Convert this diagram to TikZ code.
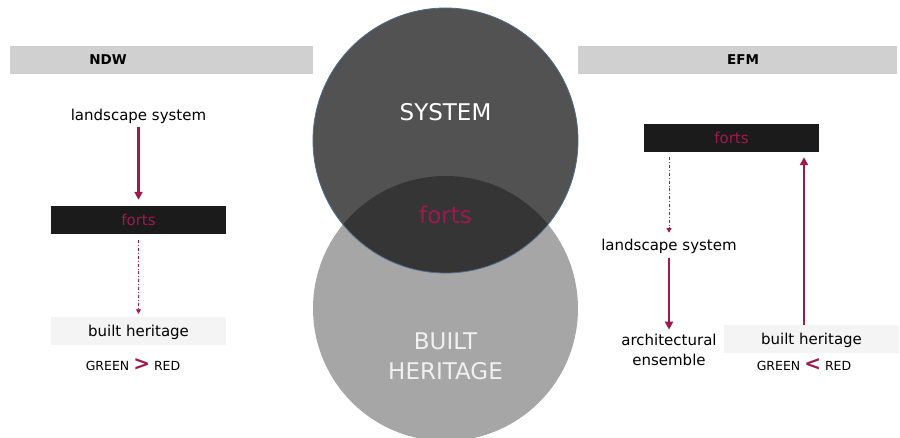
\documentclass[tikz,border=0pt]{standalone}
\usepackage{fontspec}
\setmainfont{DejaVu Sans}
\usetikzlibrary{positioning, arrows.meta, calc}
\definecolor{fortred}{HTML}{9E1A4E}
\definecolor{barblack}{HTML}{1B1B1B}
\definecolor{headgray}{HTML}{D0D0D0}
\definecolor{lightbar}{HTML}{F4F4F4}
\definecolor{heritagegray}{HTML}{A6A6A6}
\definecolor{rimblue}{HTML}{4D6D8F}
\newcommand{\fsize}[1]{\fontsize{#1}{#1}\selectfont}

\begin{document}
\begin{tikzpicture}[x=1pt, y=-1pt, font=\fsize{15}]

    % --- Styles ---
    \tikzset{
        headbar/.style={rectangle, fill=headgray, minimum height=28pt, inner sep=0pt},
        headtext/.style={font=\fsize{13.5}\bfseries},
        fortbar/.style={rectangle, fill=barblack, text=fortred, minimum width=175pt, minimum height=28pt, inner sep=0pt},
        herbar/.style={rectangle, fill=lightbar, minimum width=175pt, minimum height=28pt, inner sep=0pt, text depth=0pt},
        cmptext/.style={font=\fsize{12.5}},
        flow/.style={draw=fortred, line width=2.2pt, -{Triangle[length=8pt, width=8pt]}},
        hint/.style={draw=fortred, line width=0.8pt, dash dot, -{Triangle[length=4.5pt, width=5pt]}},
        circletext/.style={text=white, font=\fsize{23}, align=center}
    }

    \useasboundingbox (0,0) rectangle (900,438);

    % --- Headers ---
    \node[headbar, minimum width=303pt] (ndwbar) at (161.5,60) {};
    \node[headtext] (ndw) at (108,60) {NDW};
    \node[headbar, minimum width=319pt] (efmbar) at (737.5,60) {};
    \node[headtext] (efm) at (743,60) {EFM};

    % --- Circles ---
    \node[circle, fill=heritagegray, minimum size=265pt, inner sep=0pt] (heritage) at (445.5,308.5) {};
    \node[circle, fill=black, fill opacity=0.68, draw=rimblue, line width=0.8pt, minimum size=265pt, inner sep=0pt] (system) at (445.5,140.5) {};
    \node[circletext] (systemlbl) at (445.5,112) {SYSTEM};
    \node[circletext, text=fortred] (fortslbl) at (445.5,215) {forts};
    \node[circletext, text=white!94!black, font=\fontsize{23}{30}\selectfont] (heritagelbl) at (445.5,356) {BUILT\\HERITAGE};

    % --- NDW column ---
    \node (lland) at (138.5,116) {landscape system};
    \node[fortbar] (lforts) at (138.5,220) {forts};
    \node[herbar] (lbuilt) at (138.5,331) {built heritage};
    \node[cmptext] (lcmp) at (133,365) {GREEN {\color{fortred}\fsize{20}\bfseries >} RED};

    \draw[flow, shorten >=6pt] (lland) -- (lforts);
    \draw[hint, shorten <=6pt, shorten >=3pt] (lforts) -- (lbuilt);

    % --- EFM column ---
    \node[fortbar] (rforts) at (731.5,138) {forts};
    \node (rland) at (669,246.5) {landscape system};
    \node[align=center, font=\fontsize{15}{20}\selectfont] (rarch) at (669,350) {architectural\\ensemble};
    \node[herbar] (rbuilt) at (811.5,339) {built heritage};
    \node[cmptext] (rcmp) at (804,365) {GREEN {\color{fortred}\fsize{20}\bfseries <} RED};

    \draw[hint, shorten <=5pt, shorten >=3pt] (rforts.south -| rland.north) -- (rland.north);
    \draw[flow, shorten <=1pt, shorten >=1pt] (rland) -- (rarch);
    \draw[flow, shorten >=5pt] (rbuilt.north -| rcmp.north) -- (rforts.south -| rcmp.north);

\end{tikzpicture}
\end{document}
